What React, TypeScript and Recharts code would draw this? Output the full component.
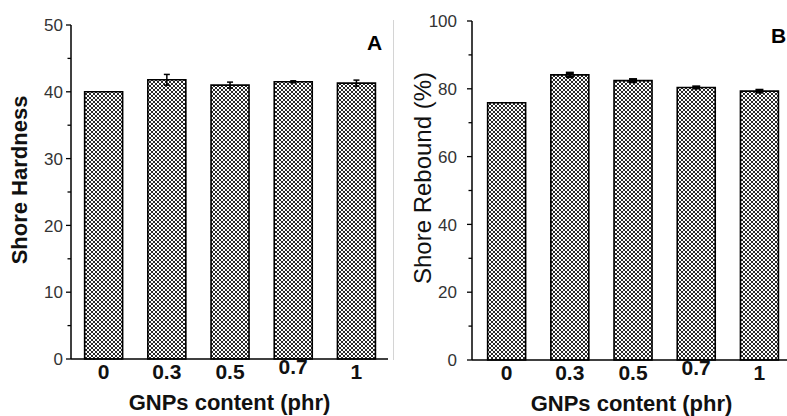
import { Bar, BarChart, ErrorBar, XAxis, YAxis } from "recharts";

const contents = ["0", "0.3", "0.5", "0.7", "1"];
const hardness = [40.0, 41.8, 41.0, 41.5, 41.3];
const hardnessErr = [0, 0.8, 0.45, 0.15, 0.45];
const rebound = [75.9, 84.1, 82.4, 80.4, 79.3];
const reboundErr = [0, 0.6, 0.4, 0.25, 0.35];
const hardnessTicks = [0, 5, 10, 15, 20, 25, 30, 35, 40, 45, 50];
const reboundTicks = [0, 10, 20, 30, 40, 50, 60, 70, 80, 90, 100];

const dataA = contents.map((x, i) => ({ x, v: hardness[i], err: hardnessErr[i] }));
const dataB = contents.map((x, i) => ({ x, v: rebound[i], err: reboundErr[i] }));

const FONT = "'Liberation Sans', Arial, sans-serif";

function YTick(props: any) {
  const { y, payload, step, fontSize, axisX, gap } = props;
  const major = payload.value % step === 0;
  return (
    <g>
      <line x1={axisX - (major ? 5 : 3.5)} x2={axisX} y1={y} y2={y} stroke="#000" strokeWidth={1.3} />
      {major && (
        <text x={axisX - gap} y={y} dy="0.36em" textAnchor="end" fontFamily={FONT} fontSize={fontSize} fill="#333">
          {payload.value}
        </text>
      )}
    </g>
  );
}

function XTick(props: any) {
  const { x, y, payload } = props;
  const lift = payload.value === "0.7" ? 5 : 0;
  return (
    <text x={x} y={y + 20 - lift} textAnchor="middle" fontFamily={FONT} fontWeight="bold" fontSize={21} fill="#111">
      {payload.value}
    </text>
  );
}

function XTitle(props: any) {
  const { viewBox } = props;
  return (
    <text x={viewBox.x + viewBox.width / 2} y={viewBox.y + 51} textAnchor="middle" fontFamily={FONT} fontWeight="bold" fontSize={22} fill="#111">
      GNPs content (phr)
    </text>
  );
}

function YTitle(props: any) {
  const { cx, cy, text, weight, fontSize } = props;
  return (
    <text x={cx} y={cy} transform={`rotate(-90 ${cx} ${cy})`} textAnchor="middle" dominantBaseline="central" fontFamily={FONT} fontWeight={weight} fontSize={fontSize} fill="#111">
      {text}
    </text>
  );
}

function Panel(props: any) {
  const { data, domain, ticks, step, yWidth, xHeight, margin, gap, yFont, title, titleX, titleY, titleWeight, titleSize, errWidth, errStroke, pad } = props;
  return (
    <BarChart width={props.width} height={416} data={data} margin={margin} barCategoryGap="20%">
      <XAxis
        dataKey="x"
        tickLine={false}
        tickSize={0}
        tickMargin={0}
        axisLine={{ stroke: "#000", strokeWidth: 1.5 }}
        height={xHeight}
        padding={pad}
        tick={<XTick />}
        label={<XTitle />}
      />
      <XAxis
        xAxisId="top"
        dataKey="x"
        orientation="top"
        height={0}
        tick={false}
        tickLine={false}
        axisLine={{ stroke: "#000", strokeWidth: 1.5 }}
      />
      <YAxis
        domain={domain}
        ticks={ticks}
        interval={0}
        width={yWidth}
        tickLine={false}
        axisLine={{ stroke: "#000", strokeWidth: 1.5 }}
        tick={<YTick step={step} fontSize={yFont} axisX={yWidth + margin.left} gap={gap} />}
        label={<YTitle cx={titleX} cy={titleY} text={title} weight={titleWeight} fontSize={titleSize} />}
      />
      <YAxis yAxisId="right" orientation="right" width={0} tick={false} tickLine={false} axisLine={{ stroke: "#000", strokeWidth: 1.5 }} />
      <Bar dataKey="v" fill="url(#hatch)" stroke="#000" strokeWidth={1.6} isAnimationActive={false}>
        <ErrorBar dataKey="err" width={errWidth} stroke="#000" strokeWidth={errStroke} isAnimationActive={false} />
      </Bar>
    </BarChart>
  );
}

const cornerStyle = {
  position: "absolute" as const,
  fontFamily: FONT,
  fontWeight: "bold" as const,
  fontSize: 21,
  lineHeight: "21px",
  color: "#000",
};

export default function App() {
  return (
    <div style={{ position: "absolute", left: 0, top: 0, width: 787, height: 416, overflow: "hidden", background: "#fff" }}>
      <svg width={0} height={0} style={{ position: "absolute" }}>
        <defs>
          <pattern id="hatch" patternUnits="userSpaceOnUse" width={4} height={4}>
            <rect width={4} height={4} fill="#fff" />
            <path d="M0,0 L4,4 M4,0 L0,4" stroke="#2a2a2a" strokeWidth={1} />
          </pattern>
        </defs>
      </svg>
      <div style={{ position: "absolute", left: 0, top: 0 }}>
        <Panel
          width={400}
          data={dataA}
          domain={[0, 50]}
          ticks={hardnessTicks}
          step={10}
          yWidth={71}
          xHeight={57}
          margin={{ top: 25, right: 12, bottom: 0, left: 0 }}
          gap={8}
          yFont={17}
          title="Shore Hardness"
          titleX={19}
          titleY={180}
          titleWeight="bold"
          titleSize={22}
          errWidth={3}
          errStroke={1.5}
          pad={{ left: 1, right: 0 }}
        />
      </div>
      <div style={{ ...cornerStyle, left: 367, top: 32 }}>A</div>
      <div style={{ position: "absolute", left: 393, top: 20, width: 1, height: 340, background: "#d4d4d4" }} />
      <div style={{ position: "absolute", left: 390, top: 0 }}>
        <Panel
          width={410}
          data={dataB}
          domain={[0, 100]}
          ticks={reboundTicks}
          step={20}
          yWidth={82}
          xHeight={56}
          margin={{ top: 21, right: 9, bottom: 0, left: 0 }}
          gap={15}
          yFont={17}
          title="Shore Rebound (%)"
          titleX={32}
          titleY={178}
          titleWeight="normal"
          titleSize={24}
          errWidth={4}
          errStroke={2.5}
          pad={{ left: 3, right: 0 }}
        />
      </div>
      <div style={{ ...cornerStyle, left: 771, top: 25 }}>B</div>
    </div>
  );
}
